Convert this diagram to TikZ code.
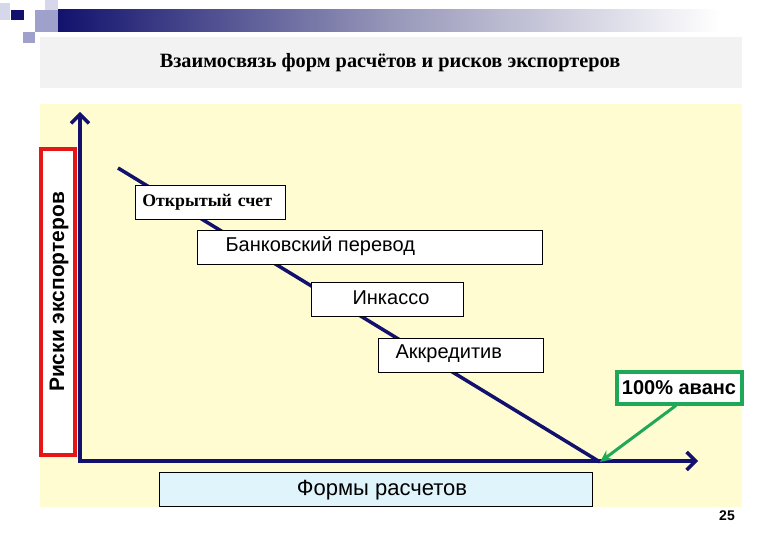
\documentclass[tikz,border=0pt]{standalone}
\usepackage{fontspec}
\setmainfont{Liberation Serif}
\setsansfont{Liberation Sans}
\usetikzlibrary{arrows.meta,shapes.geometric}
\definecolor{navy}{RGB}{18,18,110}
\definecolor{lav}{RGB}{160,160,205}
\definecolor{pale}{RGB}{215,215,235}
\definecolor{bgyellow}{RGB}{255,252,210}
\definecolor{titlegray}{RGB}{242,242,242}
\definecolor{redbox}{RGB}{228,22,22}
\definecolor{greenbox}{RGB}{30,168,88}
\definecolor{lightblue}{RGB}{224,244,252}
\tikzset{
  formbox/.style={draw=black, line width=0.8pt, fill=white, minimum height=34pt, inner sep=0pt, anchor=north west},
  sanslabel/.style={font=\sffamily\fontsize{20}{24}\selectfont},
  axisline/.style={draw=navy, line width=4pt, -{Straight Barb[length=9pt,width=18pt,line width=3.5pt]}},
}
\begin{document}
\begin{tikzpicture}[x=1pt,y=-1pt]
\useasboundingbox (0,0) rectangle (780,540);
\fill[white] (0,0) rectangle (780,540);
% top decoration
\fill[pale] (0,3) rectangle (10,20);
\fill[pale] (45,0) rectangle (58,10);
\fill[lav] (35,10) rectangle (58,32);
\fill[lav] (23,32) rectangle (35,43);
\fill[navy] (11,10) rectangle (24,20);
\shade[left color=navy, right color=white, middle color={rgb,255:red,150;green,150;blue,185}] (58,10) rectangle (720,32);
% title band
\fill[titlegray] (40,37) rectangle (742,88);
\node[font=\bfseries\fontsize{20.3}{24}\selectfont] (title) at (390,63) {Взаимосвязь форм расчётов и рисков экспортеров};
% yellow area
\fill[bgyellow] (40,104) rectangle (742,507);
% red box
\node[draw=redbox, line width=4pt, fill=white, minimum width=34pt, minimum height=305pt, inner sep=0pt] (risk) at (57.5,302) {};
\node[rotate=90, font=\sffamily\bfseries\fontsize{21}{24}\selectfont] (risklabel) at (59,292) {Риски экспортеров};
% axes
\coordinate (origin) at (80,461);
\coordinate (ytop) at (80,112);
\coordinate (xend) at (698,461);
\draw[axisline] (origin) -- (ytop);
\draw[axisline] ([xshift=-2pt]origin) -- (xend);
% diagonal
\coordinate (dstart) at (118,168);
\coordinate (dend) at (600,462);
\draw[navy, line width=3.5pt] (dstart) -- (dend);
% boxes
\node[formbox, minimum width=150pt, font=\bfseries\fontsize{17.8}{20}\selectfont, text width=150pt, align=left] (open) at (135,185) {\hspace*{7pt}Открытый счет};
\node[formbox, minimum width=345pt] (bank) at (197,230) {};
\node[sanslabel, anchor=west] (banklabel) at (222,246) {Банковский перевод};
\node[formbox, minimum width=152pt] (inkasso) at (311,282) {};
\node[sanslabel, anchor=west] (inkassolabel) at (349,298) {Инкассо};
\node[formbox, minimum width=165pt] (akkr) at (378,338) {};
\node[sanslabel, anchor=west] (akkrlabel) at (392,354) {Аккредитив};
% 100% advance
\node[draw=greenbox, line width=4pt, fill=white, minimum width=125pt, minimum height=31pt, inner sep=0pt, font=\sffamily\bfseries\fontsize{20}{24}\selectfont] (adv) at (679,388) {100\% аванс};
\draw[greenbox, line width=3pt, -{Stealth[length=12pt,width=11pt]}] (adv.south) ++(-3pt,0) coordinate (advfoot) -- (dend);
% x-axis label
\node[draw=black, line width=0.8pt, fill=lightblue, minimum width=433pt, minimum height=34pt, inner sep=0pt] (forms) at (375.5,489) {};
\node[font=\sffamily\fontsize{22}{26}\selectfont] (formslabel) at (382,490) {Формы расчетов};
% page number
\node[font=\sffamily\bfseries\fontsize{14}{16}\selectfont] (page) at (727,516) {25};
\end{tikzpicture}
\end{document}
